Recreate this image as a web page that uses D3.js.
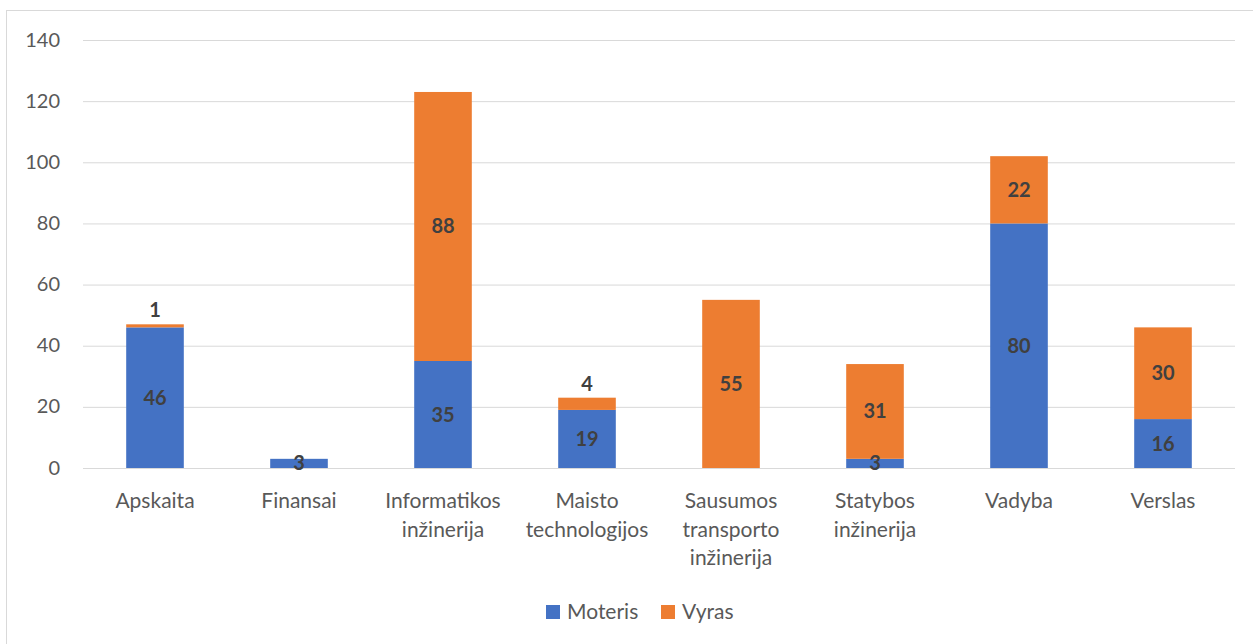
<!DOCTYPE html>
<html><head><meta charset="utf-8">
<script src="https://cdn.jsdelivr.net/npm/d3@7"></script>
<style>body{margin:0;background:#fff}svg{display:block}</style>
</head><body>
<svg id="c" width="1253" height="644"></svg>
<script>
const categories = [["Apskaita"],["Finansai"],["Informatikos","inžinerija"],["Maisto","technologijos"],["Sausumos","transporto","inžinerija"],["Statybos","inžinerija"],["Vadyba"],["Verslas"]];
const moteris = [46, 3, 35, 19, 0, 3, 80, 16];
const vyras = [1, 0, 88, 4, 55, 31, 22, 30];
const yTicks = [0, 20, 40, 60, 80, 100, 120, 140];
const seriesNames = ["Moteris", "Vyras"];
const colors = ["#4472C4", "#ED7D31"];

const font = "Lato, 'Noto Sans', sans-serif";
const svg = d3.select("#c");
svg.append("rect").attr("x",6.5).attr("y",10.5).attr("width",1250).attr("height",640)
  .attr("fill","#fff").attr("stroke","#D9D9D9");

const x = d3.scaleBand().domain(d3.range(categories.length)).range([83,1235]).paddingInner(0.6).paddingOuter(0.3);
const y = d3.scaleLinear().domain([0,140]).range([468,40]);

const g = svg.append("g");
g.selectAll("line.grid").data(yTicks).join("line")
  .attr("x1",83).attr("x2",1235).attr("y1",d=>y(d)+0.5).attr("y2",d=>y(d)+0.5)
  .attr("stroke","#D9D9D9").attr("stroke-width",1);

const yAxis = d3.axisLeft(y).tickValues(yTicks).tickSize(0).tickPadding(0);
const ya = svg.append("g").attr("transform","translate(60,0)").call(yAxis);
ya.select(".domain").remove();
ya.selectAll("text").attr("font-family",font).attr("font-size",20).attr("fill","#595959").attr("dy","0.3em");

const stack = d3.stack().keys([0,1]).value((d,k)=>d[k]);
const rows = moteris.map((m,i)=>[m, vyras[i]]);
const layers = stack(rows);

layers.forEach((layer,k)=>{
  g.selectAll("rect.s"+k).data(layer).join("rect")
    .attr("x",(d,i)=>x(i)).attr("width",x.bandwidth())
    .attr("y",d=>y(d[1])).attr("height",d=>y(d[0])-y(d[1]))
    .attr("fill",colors[k]);
});

layers.forEach((layer,k)=>{
  layer.forEach((d,i)=>{
    const v = d[1]-d[0];
    if (v<=0) return;
    let ly = (y(d[0])+y(d[1]))/2;
    if (k===1 && v<5) ly = y(d[1]) - 14;
    g.append("text").attr("x",x(i)+x.bandwidth()/2).attr("y",ly).attr("dy","0.35em")
      .attr("text-anchor","middle").attr("font-family",font).attr("font-size",20)
      .attr("font-weight","bold").attr("fill","#404040").text(v);
  });
});

categories.forEach((lines,i)=>{
  const t = svg.append("text").attr("text-anchor","middle").attr("font-family",font)
    .attr("font-size",21).attr("fill","#595959");
  lines.forEach((ln,j)=>{
    t.append("tspan").attr("x",x(i)+x.bandwidth()/2).attr("y",508+j*28.5).text(ln);
  });
});

const legX = [546, 661];
seriesNames.forEach((n,k)=>{
  svg.append("rect").attr("x",legX[k]).attr("y",605).attr("width",14).attr("height",14).attr("fill",colors[k]);
  svg.append("text").attr("x",legX[k]+21).attr("y",619).attr("font-family",font)
    .attr("font-size",21).attr("fill","#595959").text(n);
});
</script>
</body></html>
